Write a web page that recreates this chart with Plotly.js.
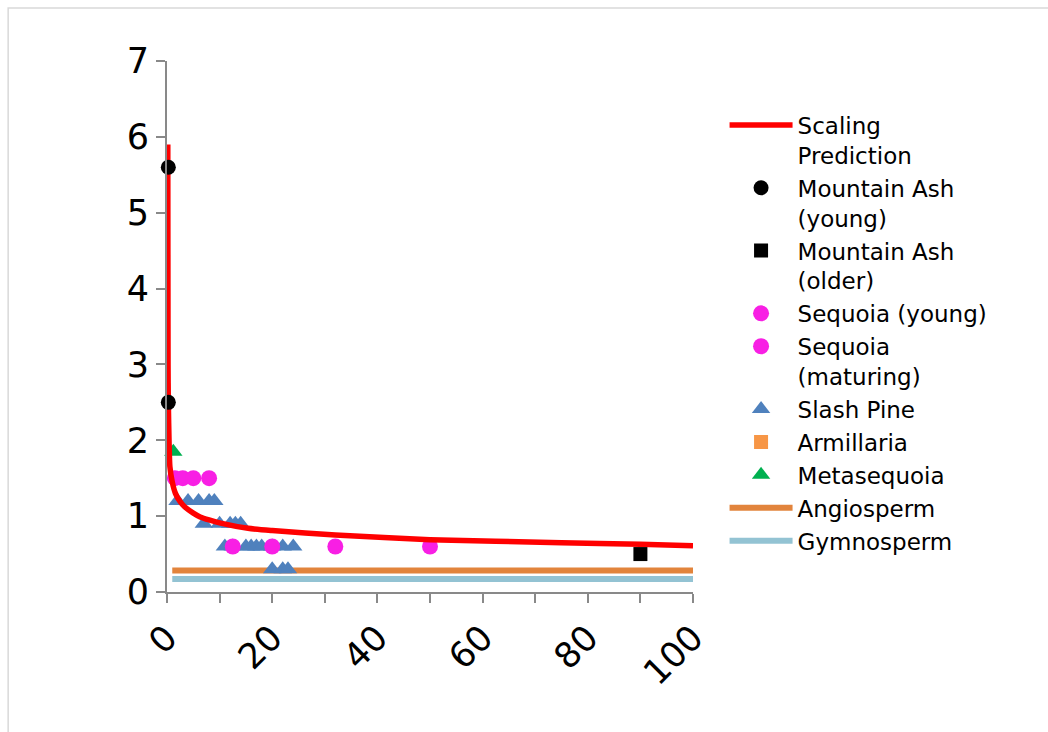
<!DOCTYPE html>
<html>
<head>
<meta charset="utf-8">
<script src="https://cdn.plot.ly/plotly-3.0.1.min.js"></script>
<style>
html,body{margin:0;padding:0;background:#fff;}
#chart{width:1048px;height:732px;}
</style>
</head>
<body>
<div id="chart"></div>
<script>
// Scaling prediction curve
const scalingX = [0.15, 0.18, 0.2, 0.25, 0.4, 0.55, 1, 1.6, 2.5, 3.4, 5, 6.3, 8, 10.4, 15.4, 20, 32, 50, 75, 90, 100];
const scalingY = [5.9, 4.0, 3.0, 2.5, 1.95, 1.65, 1.45, 1.30, 1.19, 1.12, 1.04, 0.99, 0.95, 0.905, 0.84, 0.81, 0.75, 0.69, 0.65, 0.63, 0.61];

const ashYoungX = [0.25, 0.25];
const ashYoungY = [5.6, 2.5];

const ashOlderX = [90];
const ashOlderY = [0.5];

const seqYoungX = [1.5, 3, 5, 8];
const seqYoungY = [1.5, 1.5, 1.5, 1.5];

const seqMatX = [12.5, 20, 32, 50];
const seqMatY = [0.6, 0.6, 0.6, 0.6];

const pineX = [2, 4, 6, 8, 9,
               7, 10, 12, 13, 14,
               11, 12.5, 15, 16, 17, 18, 20, 22, 24,
               20, 22, 23];
const pineY = [1.2, 1.2, 1.2, 1.2, 1.2,
               0.9, 0.9, 0.9, 0.9, 0.9,
               0.6, 0.6, 0.6, 0.6, 0.6, 0.6, 0.6, 0.6, 0.6,
               0.3, 0.3, 0.3];

// no Armillaria point is visible inside the plotted range
const armillariaX = [null];
const armillariaY = [null];

const metaX = [1.2];
const metaY = [1.85];

const angioX = [1, 100];
const angioY = [0.285, 0.285];

const gymnoX = [1, 100];
const gymnoY = [0.17, 0.17];

const xTicks = [0, 20, 40, 60, 80, 100];
const yTicks = [0, 1, 2, 3, 4, 5, 6, 7];

const FONT = "DejaVu Sans";

const traces = [
  {name:"Angiosperm", x:angioX, y:angioY, mode:"lines", line:{color:"#E2843C", width:6}, legendrank:9},
  {name:"Gymnosperm", x:gymnoX, y:gymnoY, mode:"lines", line:{color:"#93C3D3", width:6}, legendrank:10},
  {name:"Slash Pine", x:pineX, y:pineY, mode:"markers", cliponaxis:false, marker:{symbol:"triangle-up", color:"#4F81BD", size:16}, legendrank:6},
  {name:"Sequoia (young)", x:seqYoungX, y:seqYoungY, mode:"markers", cliponaxis:false, marker:{symbol:"circle", color:"#F81FE4", size:16}, legendrank:4},
  {name:"Sequoia<br>(maturing)", x:seqMatX, y:seqMatY, mode:"markers", cliponaxis:false, marker:{symbol:"circle", color:"#F81FE4", size:16}, legendrank:5},
  {name:"Armillaria", x:armillariaX, y:armillariaY, mode:"markers", marker:{symbol:"square", color:"#F79646", size:14}, legendrank:7},
  {name:"Metasequoia", x:metaX, y:metaY, mode:"markers", cliponaxis:false, marker:{symbol:"triangle-up", color:"#00B050", size:16}, legendrank:8},
  {name:"Scaling<br>Prediction", x:scalingX, y:scalingY, mode:"lines", line:{color:"#FF0000", width:5.5, shape:"spline", smoothing:0.6}, legendrank:1},
  {name:"Mountain Ash<br>(young)", x:ashYoungX, y:ashYoungY, mode:"markers", cliponaxis:false, marker:{symbol:"circle", color:"#000000", size:15}, legendrank:2},
  {name:"Mountain Ash<br>(older)", x:ashOlderX, y:ashOlderY, mode:"markers", cliponaxis:false, marker:{symbol:"square", color:"#000000", size:14}, legendrank:3}
];

const axisCol = "#898989";

const layout = {
  width:1048, height:732,
  margin:{l:167, r:355, t:61, b:140},
  paper_bgcolor:"#ffffff", plot_bgcolor:"#ffffff",
  font:{family:FONT, color:"#000000"},
  showlegend:true,
  legend:{
    x:1.06, xanchor:"left", y:0.92, yanchor:"top",
    font:{family:FONT, size:23, color:"#000000"},
    itemwidth:63, valign:"top", bgcolor:"rgba(0,0,0,0)", tracegroupgap:0
  },
  xaxis:{
    range:[0,100], tickvals:xTicks, ticktext:xTicks.map(String),
    tickangle:-45, tickfont:{family:FONT, size:35, color:"#000000"},
    showline:true, linecolor:axisCol, linewidth:2,
    ticks:"outside", ticklen:9, tickwidth:2, tickcolor:axisCol,
    minor:{dtick:10, ticks:"outside", ticklen:9, tickwidth:2, tickcolor:axisCol, showgrid:false},
    showgrid:false, zeroline:false, fixedrange:true
  },
  yaxis:{
    range:[0,7], tickvals:yTicks, ticktext:yTicks.map(String),
    tickfont:{family:FONT, size:35, color:"#000000"},
    showline:true, linecolor:axisCol, linewidth:2,
    ticks:"outside", ticklen:9, tickwidth:2, tickcolor:axisCol,
    showgrid:false, zeroline:false, fixedrange:true
  },
  shapes:[
    {type:"rect", xref:"paper", yref:"paper", x0:-0.302, x1:2.5, y0:-2.5, y1:1.0998,
     line:{color:"#D9D9D9", width:1.5}, fillcolor:"rgba(0,0,0,0)", layer:"below"}
  ]
};

Plotly.newPlot("chart", traces, layout, {displayModeBar:false, staticPlot:true});
</script>
</body>
</html>
